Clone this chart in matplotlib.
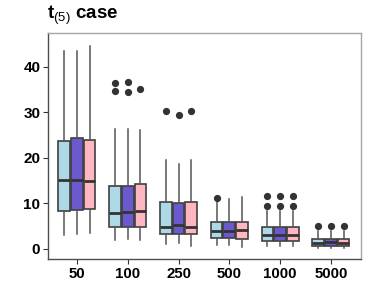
import matplotlib
matplotlib.use("Agg")
import matplotlib.pyplot as plt

plt.rcParams['font.family'] = ['Liberation Sans', 'DejaVu Sans']
plt.rcParams['mathtext.fontset'] = 'custom'
plt.rcParams['mathtext.rm'] = 'Liberation Sans'
plt.rcParams['mathtext.bf'] = 'Liberation Sans:bold'

categories = ["50", "100", "250", "500", "1000", "5000"]
series_names = ["A", "B", "C"]
colors = ["#ADD8E6", "#6A5ACD", "#FFB6C1"]

# per series: lists over categories
whislo = [
    [3.1, 2.0, 1.0, 0.9, 0.65, 0.15],
    [3.2, 2.2, 1.4, 0.9, 0.65, 0.15],
    [3.4, 2.0, 0.7, 0.5, 0.6, 0.15],
]
q1 = [
    [8.4, 4.9, 3.2, 2.3, 1.8, 0.7],
    [8.5, 4.8, 3.2, 2.3, 1.8, 0.7],
    [8.7, 4.8, 3.2, 2.2, 1.7, 0.7],
]
med = [
    [15.2, 7.9, 4.9, 4.0, 3.1, 1.4],
    [15.1, 8.0, 5.3, 3.9, 3.1, 1.6],
    [15.0, 8.3, 4.9, 4.1, 3.0, 1.4],
]
q3 = [
    [23.7, 13.7, 10.2, 5.85, 4.75, 2.2],
    [24.3, 13.8, 10.1, 5.85, 4.75, 2.2],
    [23.9, 14.2, 10.2, 6.0, 4.9, 2.15],
]
whishi = [
    [43.3, 26.2, 19.6, 10.4, 8.3, 4.0],
    [43.5, 26.2, 18.7, 11.0, 8.3, 4.0],
    [44.6, 26.0, 19.6, 11.3, 8.3, 4.0],
]
outliers = [
    [[], [36.4, 34.7], [30.2], [11.25], [11.6, 9.4], [5.1]],
    [[], [36.6, 34.5], [29.4], [], [11.6, 9.4], [5.1]],
    [[], [35.1], [30.2], [], [11.6, 9.4], [5.1]],
]
yticks = [0, 10, 20, 30, 40]

fig = plt.figure(figsize=(3.66, 3.05), dpi=100)
ax = fig.add_axes([0.131, 0.151, 0.855, 0.740])

offsets = [-0.25, 0.0, 0.25]
width = 0.23
for s in range(3):
    stats = []
    for c in range(len(categories)):
        stats.append(dict(whislo=whislo[s][c], q1=q1[s][c], med=med[s][c],
                          q3=q3[s][c], whishi=whishi[s][c],
                          fliers=outliers[s][c], mean=med[s][c]))
    pos = [c + 1 + offsets[s] for c in range(len(categories))]
    ax.bxp(stats, positions=pos, widths=width, patch_artist=True,
           showcaps=False, showmeans=False,
           boxprops=dict(facecolor=colors[s], edgecolor="#404040", linewidth=1.2),
           medianprops=dict(color="#333333", linewidth=2.0),
           whiskerprops=dict(color="#555555", linewidth=1.1),
           flierprops=dict(marker="o", markerfacecolor="#333333",
                           markeredgecolor="#333333", markersize=4.2))

ax.set_xlim(0.43, 6.59)
ax.set_ylim(-2.19, 47.3)
ax.set_xticks(range(1, len(categories) + 1))
ax.set_xticklabels(categories, fontsize=10.8, fontweight="bold")
ax.set_yticks(yticks)
ax.set_yticklabels([str(v) for v in yticks], fontsize=11, fontweight="bold")
ax.tick_params(axis="both", length=3.5, width=0.8, color="#333333", pad=2)

for side in ["left", "bottom"]:
    ax.spines[side].set_color("#4d4d4d")
    ax.spines[side].set_linewidth(1.0)
for side in ["top", "right"]:
    ax.spines[side].set_color("#a6a6a6")
    ax.spines[side].set_linewidth(1.0)

fig.text(0.128, 0.940, r"$\mathbf{t}_{(5)}$" + " case", fontsize=13.5,
         fontweight="bold", va="baseline", ha="left")

fig.savefig("out.png", dpi=100)
